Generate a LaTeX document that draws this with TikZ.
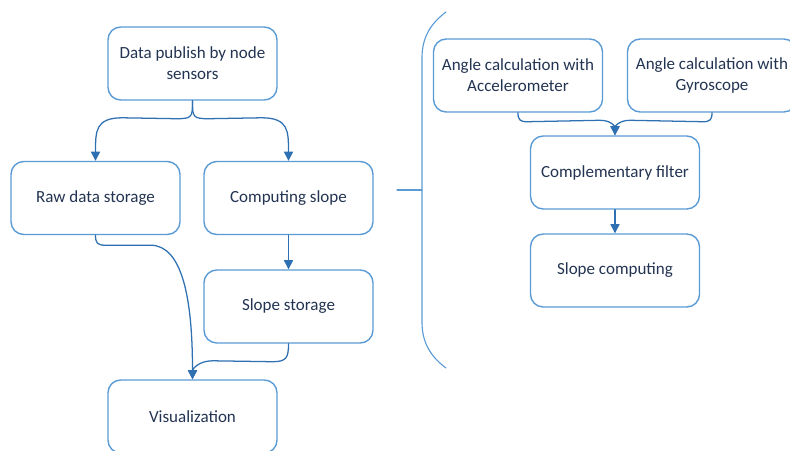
\documentclass[tikz,border=0pt]{standalone}
\usepackage{fontspec}
\setmainfont{Carlito}
\usetikzlibrary{arrows.meta,calc,positioning}

\definecolor{boxblue}{RGB}{91,155,213}
\definecolor{lineblue}{RGB}{46,112,178}
\definecolor{txtgray}{RGB}{35,52,82}

\tikzset{
  proc/.style={draw=boxblue, line width=1pt, rounded corners=0.32cm, fill=white,
    minimum width=4.225cm, minimum height=1.825cm, inner sep=0pt,
    align=center, text=txtgray, font=\fontsize{12.1}{15}\selectfont},
  conn/.style={draw=lineblue, line width=0.9pt, -{Triangle[length=6.5pt,width=6.5pt]}},
  brace/.style={draw=boxblue, line width=0.8pt}
}

\begin{document}
\begin{tikzpicture}[x=0.025cm, y=-0.025cm, line cap=round, line join=round]

\useasboundingbox (0,0) rectangle (790,450);
\clip (0,0) rectangle (790,450);

% blocchi a sinistra
\node[proc] (pub) at (192.5,63.5) {Data publish by node\\sensors};
\node[proc] (raw) at (95.5,198) {Raw data storage};
\node[proc] (cmp) at (288.5,198) {Computing slope};
\node[proc] (sst) at (288.5,306.5) {Slope storage};
\node[proc] (vis) at (192.5,416.5) {Visualization};

% blocchi a destra
\node[proc] (acc) at (518,75.5) {Angle calculation with\\Accelerometer};
\node[proc] (gyr) at (712,75.5) {Angle calculation with\\Gyroscope};
\node[proc] (cf) at (615,172.5) {Complementary filter};
\node[proc] (sc) at (615,270.5) {Slope computing};

% collegamenti a sinistra
\draw[conn] (pub.south) .. controls +(0,16) and +(16,0) .. ++(-16,18)
  -- ($(raw.north)+(27,-43)$) .. controls +(-27,0) and +(0,-30) .. (raw.north);
\draw[conn] (pub.south) .. controls +(0,16) and +(-16,0) .. ++(16,18)
  -- ($(cmp.north)+(-27,-43)$) .. controls +(27,0) and +(0,-30) .. (cmp.north);
\draw[conn] (raw.south) .. controls +(0,8) and +(-8,0) .. ++(10,10)
  -- ($(raw.south)+(55,10)$) .. controls +(32,0) and +(0,-80) .. (vis.north);
\draw[conn] (cmp) -- (sst);
\draw[conn] (sst.south) .. controls +(0,14) and +(14,0) .. ++(-16,18)
  -- ($(vis.north)+(20,-18.5)$) .. controls +(-14,0) and +(0,-10) .. (vis.north);

% collegamenti a destra
\draw[conn] (acc.south) .. controls +(0,7) and +(-7,0) .. ++(9,9)
  -- ($(cf.north)+(-15,-15)$) .. controls +(12,0) and +(0,-8) .. (cf.north);
\draw[conn] (gyr.south) .. controls +(0,7) and +(7,0) .. ++(-9,9)
  -- ($(cf.north)+(15,-15)$) .. controls +(-12,0) and +(0,-8) .. (cf.north);
\draw[conn] (cf) -- (sc);

% parentesi
\draw[brace] (446,12) .. controls (430,24) and (422,38) .. (422,58)
  -- (422,322) .. controls (422,342) and (430,356) .. (446,368);
\draw[brace] (397,190) -- (422,190);

\end{tikzpicture}
\end{document}
